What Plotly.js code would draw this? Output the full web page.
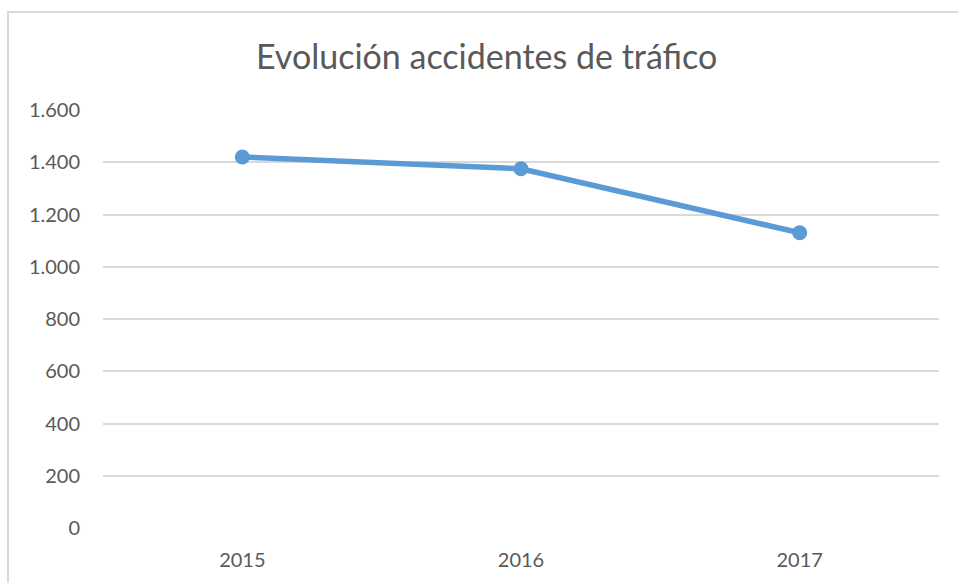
<!DOCTYPE html>
<html>
<head>
<meta charset="utf-8">
<script src="https://cdn.plot.ly/plotly-3.0.1.min.js"></script>
<style>
html,body{margin:0;padding:0;background:#fff;overflow:hidden;}
#frame{position:absolute;left:7px;top:11px;width:1000px;height:700px;border:2px solid #d9d9d9;box-sizing:border-box;}
#chart{position:absolute;left:0;top:0;width:958px;height:583px;}
</style>
</head>
<body>
<div id="frame"></div>
<div id="chart"></div>
<script>
const years = ['2015', '2016', '2017'];
const accidents = [1420, 1375, 1130];
const chartTitle = 'Evolución accidentes de tráfico';

const fontFam = 'Lato, "Open Sans", sans-serif';
Plotly.newPlot('chart', [{
  x: years,
  y: accidents,
  type: 'scatter',
  mode: 'lines+markers',
  line: {color: '#5B9BD5', width: 5.5},
  marker: {color: '#5B9BD5', size: 15},
  hoverinfo: 'x+y'
}], {
  width: 958,
  height: 583,
  paper_bgcolor: 'rgba(0,0,0,0)',
  plot_bgcolor: 'rgba(0,0,0,0)',
  margin: {l: 103, r: 19, t: 110, b: 55},
  separators: ',.',
  showlegend: false,
  title: {text: chartTitle, x: 0.508, xanchor: 'center', y: 0.902, yanchor: 'middle',
          font: {family: fontFam, size: 34, color: '#595959'}},
  xaxis: {type: 'category', range: [-0.5, 2.5], showgrid: false, zeroline: false,
          showline: false, ticks: '', ticklabelstandoff: 18,
          tickfont: {family: fontFam, size: 20, color: '#595959'}},
  yaxis: {range: [0, 1600], dtick: 200, tick0: 0, separatethousands: true,
          showgrid: true, gridcolor: '#d9d9d9', gridwidth: 2, zeroline: false,
          showline: false, ticks: '', ticklabelstandoff: 22,
          tickfont: {family: fontFam, size: 20, color: '#595959'}}
}, {displayModeBar: false, staticPlot: true});
</script>
</body>
</html>
